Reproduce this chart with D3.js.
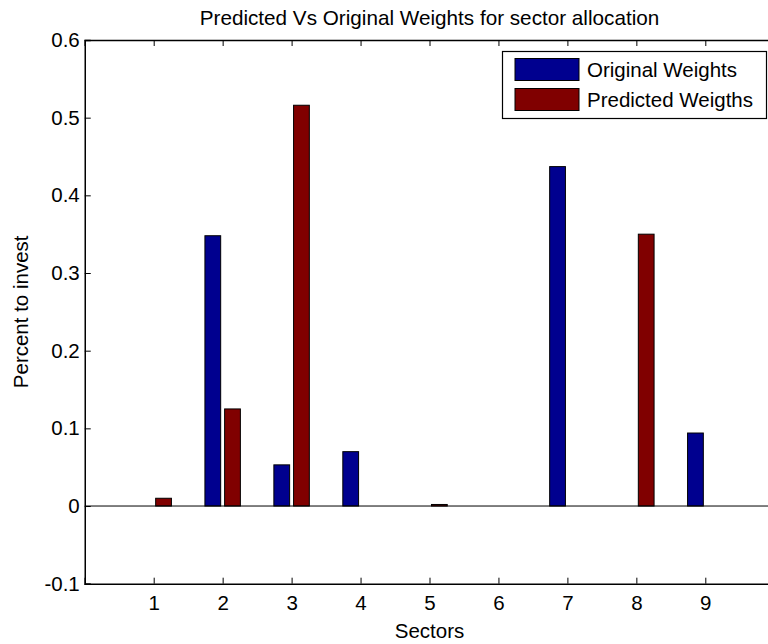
<!DOCTYPE html>
<html>
<head>
<meta charset="utf-8">
<script src="https://cdn.jsdelivr.net/npm/d3@7"></script>
<style>
  body { margin: 0; background: #fff; }
  svg { display: block; font-family: "Liberation Sans", Arial, sans-serif; }
</style>
</head>
<body>
<svg id="chart" width="768" height="644"></svg>
<script>
// data
const sectors = [1, 2, 3, 4, 5, 6, 7, 8, 9];
const originalWeights = [0, 0.348, 0.053, 0.070, 0, 0, 0.437, 0, 0.094];
const predictedWeights = [0.010, 0.125, 0.516, 0, 0.002, 0, 0, 0.350, 0];
const seriesNames = ["Original Weights", "Predicted Weigths"];
const seriesColors = ["#00008f", "#800000"];
const yTicks = [-0.1, 0, 0.1, 0.2, 0.3, 0.4, 0.5, 0.6];
const yTickLabels = ["-0.1", "0", "0.1", "0.2", "0.3", "0.4", "0.5", "0.6"];

const svg = d3.select("#chart");
const fontSize = 20.5;

// axes box (right edge falls just outside the window, as in the original)
const x = d3.scaleLinear().domain([0, 10]).range([84.75, 774.25]);
const y = d3.scaleLinear().domain([-0.1, 0.6]).range([583.7, 40]);

// grouped bar geometry, matlab style
const groupWidth = Math.min(0.8, 2 / 3.5);
const barWidth = groupWidth / 2 * 0.8;
const offsets = [-groupWidth / 4, groupWidth / 4];

const series = [originalWeights, predictedWeights];

const plot = svg.append("g");

series.forEach((vals, s) => {
  plot.selectAll("rect.s" + s)
    .data(sectors)
    .enter()
    .append("rect")
    .attr("class", "s" + s)
    .attr("x", d => x(d + offsets[s] - barWidth / 2))
    .attr("width", x(barWidth) - x(0))
    .attr("y", (d, i) => y(Math.max(0, vals[i])))
    .attr("height", (d, i) => Math.abs(y(vals[i]) - y(0)))
    .attr("fill", seriesColors[s])
    .attr("stroke", (d, i) => vals[i] === 0 ? "#c8c8c8" : "#000")
    .attr("stroke-width", 1);
});

// baseline at zero
plot.append("line")
  .attr("x1", x(0)).attr("x2", x(10))
  .attr("y1", y(0)).attr("y2", y(0))
  .attr("stroke", "#000").attr("stroke-width", 1);

// axes: left + bottom with labels, top + right ticks only
const tickLen = 6;
const axisLeft = d3.axisLeft(y).tickValues(yTicks).tickSize(-tickLen).tickPadding(5)
  .tickFormat((d, i) => yTickLabels[i]);
const axisBottom = d3.axisBottom(x).tickValues(sectors).tickSize(-tickLen).tickPadding(12);
const axisTop = d3.axisTop(x).tickValues(sectors).tickSize(-tickLen).tickFormat("");
const axisRight = d3.axisRight(y).tickValues(yTicks).tickSize(-tickLen).tickFormat("");

function style(g) {
  g.selectAll("path.domain").attr("stroke", "#000").attr("stroke-width", 1.5);
  g.selectAll(".tick line").attr("stroke", "#000").attr("stroke-width", 1);
  g.selectAll(".tick text")
    .attr("fill", "#000")
    .style("font-size", fontSize + "px")
    .style("font-family", "'Liberation Sans', Arial, sans-serif");
}

svg.append("g").attr("transform", `translate(${x(0)},0)`).call(axisLeft).call(style);
svg.append("g").attr("transform", `translate(0,${y(-0.1)})`).call(axisBottom).call(style);
svg.append("g").attr("transform", `translate(0,${y(0.6)})`).call(axisTop).call(style);
svg.append("g").attr("transform", `translate(${x(10)},0)`).call(axisRight).call(style);

// title and axis labels
svg.append("text")
  .attr("x", (x(0) + x(10)) / 2).attr("y", 25)
  .attr("text-anchor", "middle")
  .style("font-size", "20.7px")
  .text("Predicted Vs Original Weights for sector allocation");

svg.append("text")
  .attr("x", (x(0) + x(10)) / 2).attr("y", 638)
  .attr("text-anchor", "middle")
  .style("font-size", fontSize + "px")
  .text("Sectors");

svg.append("text")
  .attr("transform", `translate(28,${(y(-0.1) + y(0.6)) / 2}) rotate(-90)`)
  .attr("text-anchor", "middle")
  .style("font-size", fontSize + "px")
  .text("Percent to invest");

// legend
const legend = svg.append("g");
legend.append("rect")
  .attr("x", 502.5).attr("y", 51.5)
  .attr("width", 264).attr("height", 67)
  .attr("fill", "#fff").attr("stroke", "#000").attr("stroke-width", 1.2);

seriesNames.forEach((name, s) => {
  const row = legend.append("g").attr("transform", `translate(0,${s * 30})`);
  row.append("rect")
    .attr("x", 515).attr("y", 58.5)
    .attr("width", 64).attr("height", 22)
    .attr("fill", seriesColors[s]).attr("stroke", "#000").attr("stroke-width", 1);
  row.append("text")
    .attr("x", 587).attr("y", 77)
    .style("font-size", fontSize + "px")
    .text(name);
});
</script>
</body>
</html>
